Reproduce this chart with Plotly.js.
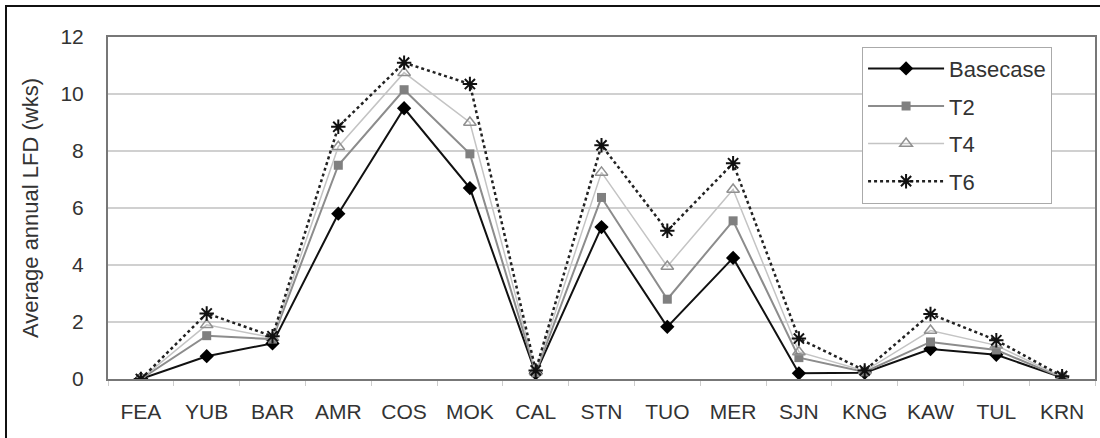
<!DOCTYPE html>
<html>
<head>
<meta charset="utf-8">
<script src="https://cdn.plot.ly/plotly-3.0.1.min.js"></script>
<style>
  html, body { margin: 0; padding: 0; background: #fff; }
  #wrap { position: relative; width: 1100px; height: 438px; overflow: hidden; }
  #chart { width: 1100px; height: 438px; }
  #frame { position: absolute; left: 5px; top: 5px; width: 1110px; height: 450px;
           border: 2px solid #111; pointer-events: none; box-sizing: border-box; }
</style>
</head>
<body>
<div id="wrap"><div id="chart"></div><div id="frame"></div></div>
<script>
const categories = ["FEA","YUB","BAR","AMR","COS","MOK","CAL","STN","TUO","MER","SJN","KNG","KAW","TUL","KRN"];
const basecase = [0.0, 0.8, 1.25, 5.8, 9.5, 6.7, 0.2, 5.33, 1.83, 4.25, 0.2, 0.22, 1.05, 0.85, 0.05];
const t2       = [0.0, 1.52, 1.4, 7.5, 10.15, 7.9, 0.22, 6.37, 2.8, 5.55, 0.75, 0.25, 1.3, 1.02, 0.05];
const t4       = [0.0, 1.9, 1.45, 8.15, 10.75, 9.0, 0.25, 7.25, 3.95, 6.65, 0.95, 0.28, 1.7, 1.18, 0.07];
const t6       = [0.0, 2.3, 1.5, 8.85, 11.1, 10.35, 0.3, 8.2, 5.2, 7.57, 1.42, 0.3, 2.28, 1.36, 0.1];
const seriesNames = ["Basecase", "T2", "T4", "T6"];

const font = "Liberation Sans, Arial, sans-serif";
const traces = [
  { x: categories, y: basecase, name: seriesNames[0], legendgroup: "a", type: "scatter", mode: "lines+markers",
    line: { color: "#111", width: 2 }, marker: { symbol: "diamond", size: 11, color: "#000" } },
  { x: categories, y: t2, name: seriesNames[1], legendgroup: "b", type: "scatter", mode: "lines+markers",
    line: { color: "#8c8c8c", width: 2 }, marker: { symbol: "square", size: 9, color: "#808080" } },
  { x: categories, y: t4, name: seriesNames[2], legendgroup: "c", type: "scatter", mode: "lines+markers",
    line: { color: "#c4c4c4", width: 1.5 }, marker: { symbol: "triangle-up-open", size: 11, color: "#909090", line: { width: 1.5 } } },
  { x: categories, y: t6, name: seriesNames[3], legendgroup: "d", type: "scatter", mode: "lines+markers",
    line: { color: "#222", width: 2.5, dash: "dot" }, marker: { symbol: "asterisk-open", size: 12, color: "#111", line: { width: 2, color: "#111" } } }
];

const layout = {
  width: 1100, height: 438,
  margin: { l: 108, r: 5, t: 37, b: 59 },
  paper_bgcolor: "#fff", plot_bgcolor: "#fff",
  font: { family: font, size: 20, color: "#333" },
  showlegend: true,
  legend: {
    x: 0.764, y: 0.972, xanchor: "left", yanchor: "top",
    bgcolor: "#fff", bordercolor: "#aaa", borderwidth: 1,
    font: { family: font, size: 22, color: "#333" },
    tracegroupgap: 6, traceorder: "grouped", itemwidth: 76
  },
  xaxis: {
    type: "category", range: [-0.5, 14.5],
    showline: true, linecolor: "#777", linewidth: 2, mirror: true,
    showgrid: false, ticks: "outside", tickson: "boundaries", ticklen: 5, tickcolor: "#ccc", tickwidth: 1,
    ticklabelstandoff: 13,
    tickfont: { family: font, size: 21, color: "#333" }
  },
  yaxis: {
    range: [0, 12], dtick: 2, tick0: 0,
    showline: true, linecolor: "#777", linewidth: 2, mirror: true,
    showgrid: true, gridcolor: "#d0d0d0", gridwidth: 1.5, zeroline: false,
    ticks: "", ticklabelstandoff: 18,
    tickfont: { family: font, size: 21, color: "#333" },
    title: { text: "Average annual LFD (wks)", font: { family: font, size: 22, color: "#333" }, standoff: 16 }
  }
};

Plotly.newPlot("chart", traces, layout, { displayModeBar: false, staticPlot: true });
</script>
</body>
</html>
